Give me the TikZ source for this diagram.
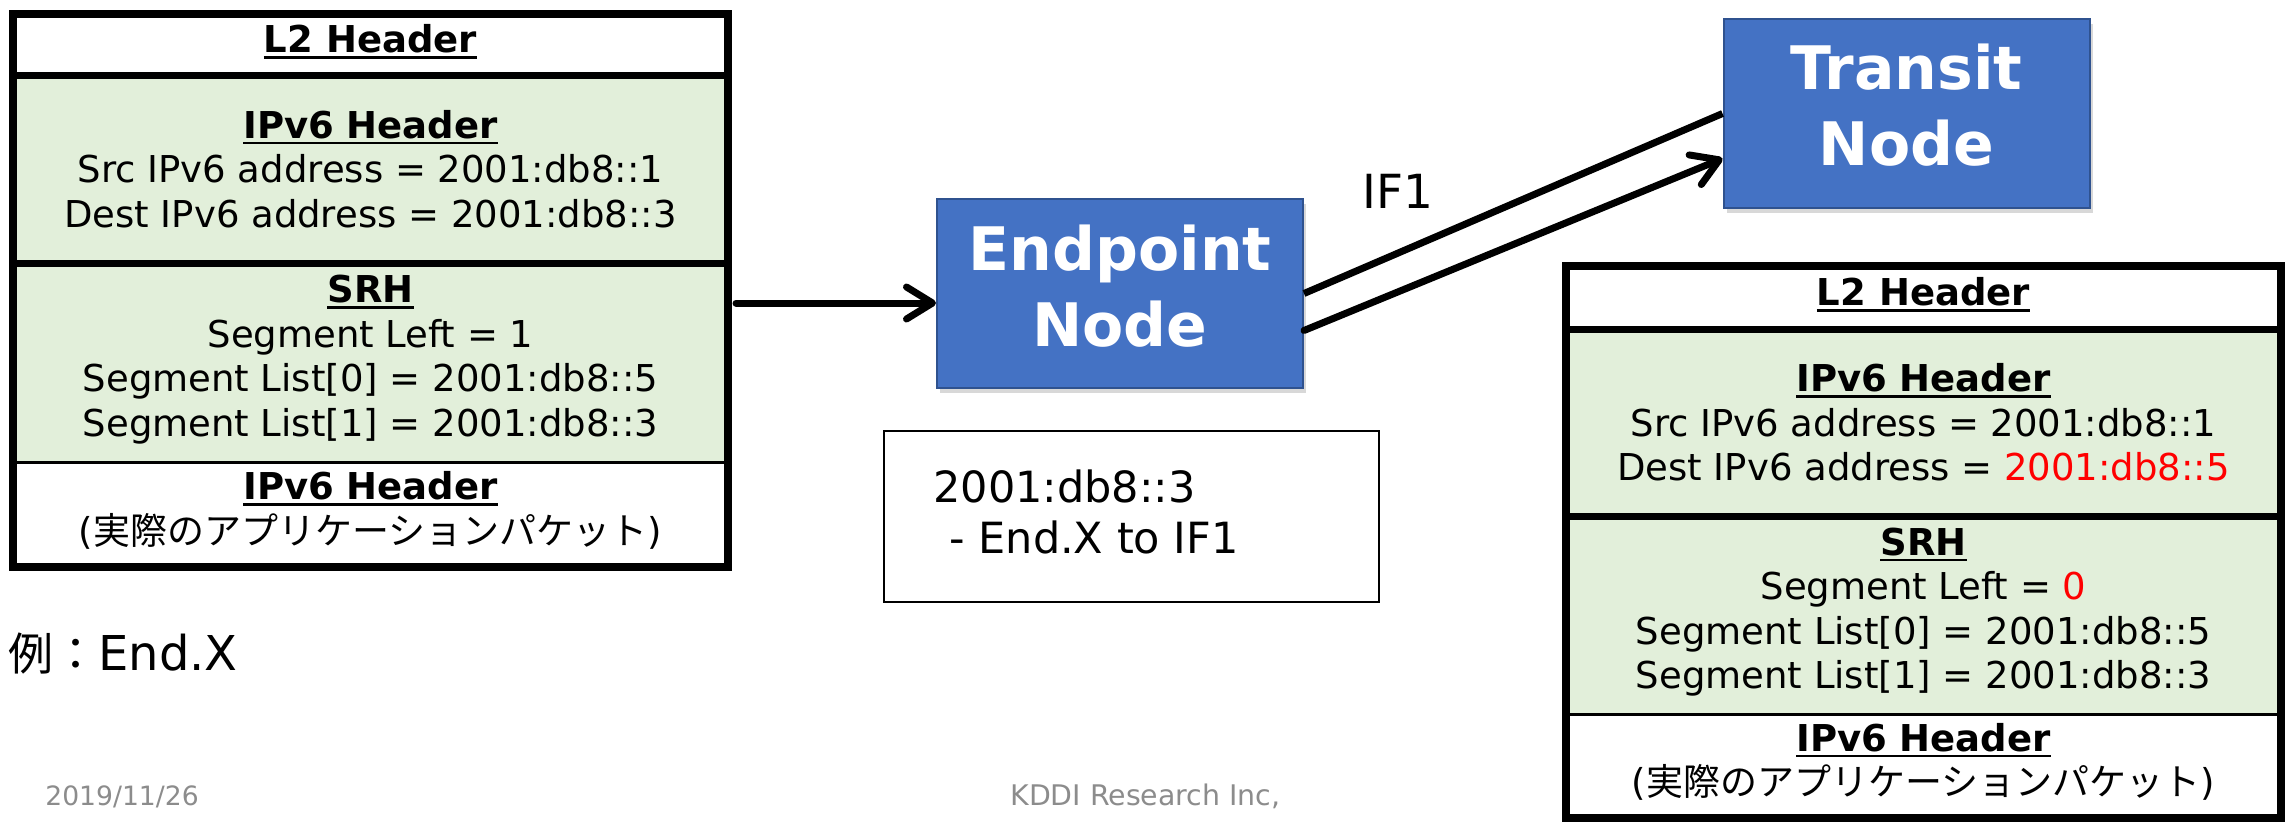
\documentclass[tikz,border=0pt]{standalone}
\usepackage{fontspec}
\setmainfont{DejaVu Sans}
\newfontfamily\jpfont{Noto Sans CJK JP}
\usetikzlibrary{arrows.meta,shadows}
\definecolor{nodeblue}{HTML}{4472C4}
\definecolor{nodeedge}{HTML}{2F528F}
\definecolor{hdrgreen}{HTML}{E2EFDA}
\definecolor{footgray}{HTML}{8C8C8C}
\definecolor{chgred}{HTML}{FF0000}
% bold, underlined section title
\newcommand\hdrline[1]{\setbox0\hbox{\bfseries #1}\rlap{\rule[-3pt]{\wd0}{1.4pt}}\box0}
% invisible depth, used to lift a centred block of lines
\newcommand\lift[1]{\rule[-#1]{0pt}{0pt}}
\begin{document}
\begin{tikzpicture}[x=0.5pt,y=-0.5pt,
  field/.style={rectangle, inner sep=0pt, minimum width=357.5pt, align=center,
    font=\fontsize{18.5pt}{22.25pt}\selectfont},
  frame/.style={line width=4pt, line join=miter},
  thickrule/.style={line width=3.5pt},
  thinrule/.style={line width=1.5pt},
  router/.style={rectangle, fill=nodeblue, draw=nodeedge, line width=1pt,
    minimum width=183pt, minimum height=94.5pt, text=white, align=center,
    font=\fontsize{30pt}{38pt}\selectfont\bfseries,
    drop shadow={shadow xshift=1.5pt, shadow yshift=-2.5pt, opacity=0.3}},
  flow/.style={line width=3.5pt, line cap=round,
    -{Straight Barb[length=13pt,width=16pt,line cap=round,line join=round]}},
  link/.style={line width=3.5pt},
  note/.style={font=\fontsize{21.5pt}{25.5pt}\selectfont, inner sep=0pt, anchor=base west},
  caption/.style={font=\fontsize{24pt}{28pt}\selectfont, inner sep=0pt, anchor=base west},
  iflabel/.style={font=\fontsize{23.5pt}{28pt}\selectfont, inner sep=0pt, anchor=base west},
  foot/.style={text=footgray, inner sep=0pt, anchor=base west}
]
\fill[white] (0,0) rectangle (2287,821);
\useasboundingbox (0,0) rectangle (2287,821);

% ---- incoming packet ----
\node[field, minimum height=30.5pt] (l-l2) at (370.5,44.5) {\hdrline{L2 Header}\lift{6pt}};
\node[field, fill=hdrgreen, minimum height=94pt] (l-ip) at (370.5,169)
  {\hdrline{IPv6 Header}\\Src IPv6 address = 2001:db8::1\\Dest IPv6 address = 2001:db8::3};
\node[field, fill=hdrgreen, minimum height=99.5pt] (l-srh) at (370.5,362.5)
  {\hdrline{SRH}\\Segment Left = 1\\Segment List[0] = 2001:db8::5\\Segment List[1] = 2001:db8::3\lift{6.5pt}};
\node[field, minimum height=52.5pt] (l-pay) at (370.5,514.5)
  {\hdrline{IPv6 Header}\\({\jpfont 実際のアプリケーションパケット})\lift{6.5pt}};
\draw[thickrule] (l-l2.south west) -- (l-l2.south east);
\draw[thickrule] (l-ip.south west) -- (l-ip.south east);
\draw[thinrule] (l-srh.south west) -- (l-srh.south east);
\draw[frame] (l-l2.north west) rectangle (l-pay.south east);

% ---- outgoing packet ----
\node[field, minimum height=31.5pt] (r-l2) at (1923.5,297.5) {\hdrline{L2 Header}\lift{6pt}};
\node[field, fill=hdrgreen, minimum height=93.5pt] (r-ip) at (1923.5,422.5)
  {\hdrline{IPv6 Header}\\Src IPv6 address = 2001:db8::1\\Dest IPv6 address = \textcolor{chgred}{2001:db8::5}};
\node[field, fill=hdrgreen, minimum height=99pt] (r-srh) at (1923.5,615)
  {\hdrline{SRH}\\Segment Left = \textcolor{chgred}{0}\\Segment List[0] = 2001:db8::5\\Segment List[1] = 2001:db8::3\lift{6.5pt}};
\node[field, minimum height=52pt] (r-pay) at (1923.5,766)
  {\hdrline{IPv6 Header}\\({\jpfont 実際のアプリケーションパケット})\lift{6.5pt}};
\draw[thickrule] (r-l2.south west) -- (r-l2.south east);
\draw[thickrule] (r-ip.south west) -- (r-ip.south east);
\draw[thinrule] (r-srh.south west) -- (r-srh.south east);
\draw[frame] (r-l2.north west) rectangle (r-pay.south east);

% ---- nodes ----
\node[router] (ep) at (1120,293.5) {Endpoint\\Node\lift{8pt}};
\node[router] (tr) at (1906.5,113.5) {Transit\\Node\lift{9pt}};

% ---- connectors ----
\coordinate (feed) at (736,303);
\draw[flow] (feed) -- (feed -| ep.west);
\draw[link] (ep.east) -- (tr.west);
\draw[flow] ([yshift=-18.5pt]ep.east) -- ([yshift=-22.5pt]tr.west);
\node[iflabel] (if1) at (1362,208) {IF1};

% ---- local SID table ----
\node[draw, line width=1.2pt, minimum width=247.5pt, minimum height=85.5pt, inner sep=0pt]
  (sid) at (1131.5,516.5) {};
\node[note] (sid-a) at (933,502) {2001:db8::3};
\node[note] (sid-b) at (949,553) {- End.X to IF1};

\node[caption] (ex) at (8,670) {{\fontsize{22.5pt}{28pt}\selectfont\jpfont 例：}End.X};

% ---- footer ----
\node[foot, font=\fontsize{13.3pt}{16pt}\selectfont] (date) at (45,805) {2019/11/26};
\node[foot, font=\fontsize{14.2pt}{17pt}\selectfont] (org) at (1010,805) {KDDI Research Inc,};
\end{tikzpicture}
\end{document}
